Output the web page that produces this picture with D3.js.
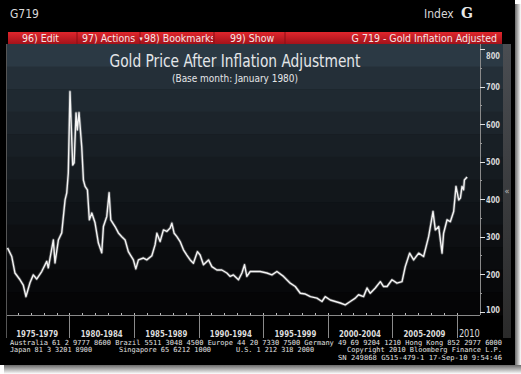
<!DOCTYPE html>
<html>
<head>
<meta charset="utf-8">
<script src="https://cdn.jsdelivr.net/npm/d3@7"></script>
<style>
  html, body { margin: 0; padding: 0; background: #fff; }
  svg { display: block; }
</style>
</head>
<body>
<svg id="chart" width="521" height="374"></svg>
<script>
// inflation adjusted gold price (decimal year, USD)
const years = [
  1975.20, 1975.53, 1975.78, 1976.17, 1976.42, 1976.63, 1976.94, 1977.20, 1977.46, 1977.85,
  1978.24, 1978.36, 1978.75, 1978.88, 1979.14, 1979.40, 1979.66, 1979.79, 1979.91, 1980.04,
  1980.25, 1980.36, 1980.51, 1980.61, 1980.74, 1980.95, 1981.08, 1981.21, 1981.39, 1981.54,
  1981.73, 1981.98, 1982.24, 1982.50, 1982.63, 1982.89, 1983.07, 1983.20, 1983.53, 1983.79,
  1984.05, 1984.31, 1984.56, 1984.95, 1985.14, 1985.34, 1985.73, 1985.99, 1986.38, 1986.63,
  1986.77, 1987.02, 1987.28, 1987.54, 1987.80, 1987.93, 1988.11, 1988.32, 1988.57, 1988.83,
  1989.09, 1989.35, 1989.60, 1989.91, 1990.12, 1990.38, 1990.77, 1991.03, 1991.42, 1991.80,
  1992.19, 1992.45, 1992.70, 1993.09, 1993.36, 1993.56, 1993.74, 1994.00, 1994.52, 1994.77,
  1995.29, 1995.68, 1996.07, 1996.58, 1997.10, 1997.49, 1997.88, 1998.27, 1998.66, 1999.17,
  1999.56, 1999.81, 2000.20, 2000.59, 2000.98, 2001.36, 2001.75, 2002.14, 2002.39, 2002.78,
  2003.05, 2003.30, 2003.69, 2004.08, 2004.33, 2004.60, 2004.98, 2005.37, 2005.76, 2006.01,
  2006.35, 2006.66, 2007.05, 2007.43, 2007.82, 2008.16, 2008.34, 2008.60, 2008.86, 2008.98,
  2009.25, 2009.50, 2009.76, 2009.94, 2010.15, 2010.28, 2010.41, 2010.53, 2010.59, 2010.80
];
const prices = [
  270, 247, 203, 185, 171, 140, 177, 198, 187, 207,
  234, 217, 291, 230, 291, 310, 398, 417, 470, 687,
  491, 497, 630, 585, 631, 540, 451, 434, 425, 345,
  363, 337, 283, 257, 327, 354, 417, 345, 327, 310,
  300, 291, 260, 238, 214, 238, 243, 238, 249, 278,
  309, 287, 318, 314, 323, 336, 309, 300, 287, 265,
  251, 238, 229, 260, 251, 225, 238, 220, 211, 211,
  203, 194, 198, 185, 203, 225, 194, 207, 207, 207,
  203, 198, 207, 194, 176, 167, 149, 147, 140, 136,
  127, 140, 131, 127, 123, 118, 127, 136, 145, 140,
  163, 149, 163, 180, 167, 167, 185, 176, 180, 220,
  256, 238, 256, 247, 300, 367, 318, 327, 256, 309,
  345, 340, 367, 434, 398, 403, 434, 425, 451, 459
];

const yTicks = [100, 200, 300, 400, 500, 600, 700, 800];
const periodStarts = [1975, 1980, 1985, 1990, 1995, 2000, 2005, 2010];
const periodLabels = ['1975-1979', '1980-1984', '1985-1989', '1990-1994',
                      '1995-1999', '2000-2004', '2005-2009', '2010'];
const menuItems = ['96) Edit', '97) Actions', '98) Bookmarks', '99) Show'];
const footerLine1 = 'Australia 61 2 9777 8600 Brazil 5511 3048 4500 Europe 44 20 7330 7500 Germany 49 69 9204 1210 Hong Kong 852 2977 6000';
const footerLine2 = ['Japan 81 3 3201 8900', 'Singapore 65 6212 1000', 'U.S. 1 212 318 2000',
                     'Copyright 2010 Bloomberg Finance L.P.'];
const footerLine3 = 'SN 249868 G515-479-1 17-Sep-10  9:54:46';

const FONT = '"DejaVu Sans Condensed", "DejaVu Sans", sans-serif';
const MONO = '"DejaVu Sans Mono", "Liberation Mono", monospace';

const svg = d3.select('#chart');
const plot = {left: 7, right: 480, top: 44, bottom: 315, panelRight: 503};

const xScale = d3.scaleLinear().domain([1975.2, 2011.8]).range([7.5, 480]);
const yScale = d3.scaleLinear().domain([91, 806]).range([plot.bottom, 47]);

const defs = svg.append('defs');

function drawFrame() {
    // screenshot shadow around the terminal window
    const sh = defs.append('linearGradient').attr('id', 'shadowR');
    sh.append('stop').attr('offset', 0).attr('stop-color', '#6a6a6a');
    sh.append('stop').attr('offset', 1).attr('stop-color', '#ffffff');
    const shB = defs.append('linearGradient').attr('id', 'shadowB')
        .attr('x1', 0).attr('y1', 0).attr('x2', 0).attr('y2', 1);
    shB.append('stop').attr('offset', 0).attr('stop-color', '#6a6a6a');
    shB.append('stop').attr('offset', 1).attr('stop-color', '#ffffff');

    svg.append('rect').attr('x', 515).attr('y', 4).attr('width', 6).attr('height', 366)
        .attr('fill', 'url(#shadowR)');
    svg.append('rect').attr('x', 4).attr('y', 365).attr('width', 517).attr('height', 9)
        .attr('fill', 'url(#shadowB)');
    svg.append('rect').attr('x', 0).attr('y', 0).attr('width', 515).attr('height', 365)
        .attr('fill', '#000');
}

function drawHeader() {
    svg.append('text').attr('x', 10).attr('y', 18)
        .attr('font-family', FONT).attr('font-size', 12).attr('fill', '#d8d8d8')
        .text('G719');
    svg.append('text').attr('x', 424).attr('y', 18)
        .attr('font-family', FONT).attr('font-size', 12).attr('fill', '#d8d8d8')
        .text('Index');
    svg.append('text').attr('x', 461).attr('y', 18)
        .attr('font-family', '"DejaVu Serif", serif').attr('font-size', 14)
        .attr('font-weight', 'bold').attr('fill', '#e8e8e8')
        .text('G');

    const red = defs.append('linearGradient').attr('id', 'redBar')
        .attr('x1', 0).attr('y1', 0).attr('x2', 0).attr('y2', 1);
    red.append('stop').attr('offset', 0).attr('stop-color', '#e0262c');
    red.append('stop').attr('offset', 1).attr('stop-color', '#a3121a');

    svg.append('rect').attr('x', 8).attr('y', 32).attr('width', 494).attr('height', 12)
        .attr('fill', 'url(#redBar)');

    defs.append('clipPath').attr('id', 'bookClip')
        .append('rect').attr('x', 140).attr('y', 30).attr('width', 73).attr('height', 16);

    const menuX = [22, 82, 144, 230];
    [77, 140, 214, 285].forEach(sx => {
        svg.append('line').attr('x1', sx).attr('x2', sx).attr('y1', 32).attr('y2', 44)
            .attr('stroke', '#8a0e14').attr('stroke-width', 1);
    });
    menuItems.forEach((m, i) => {
        svg.append('text').attr('x', menuX[i]).attr('y', 42)
            .attr('font-family', FONT).attr('font-size', 10.5).attr('fill', '#f6e4e4')
            .attr('clip-path', i === 2 ? 'url(#bookClip)' : null)
            .text(m);
    });
    svg.append('text').attr('x', 141).attr('y', 41).attr('text-anchor', 'middle')
        .attr('font-family', FONT).attr('font-size', 7).attr('fill', '#f6e4e4').text('\u25BE');
    svg.append('text').attr('x', 497).attr('y', 42).attr('text-anchor', 'end')
        .attr('font-family', FONT).attr('font-size', 10.5).attr('fill', '#f6e4e4')
        .text('G 719 - Gold Inflation Adjusted');
}

function drawPanel() {
    // banded vertical gradient of the Bloomberg chart panel
    const bands = 12;
    const bh = (plot.bottom - plot.top) / bands;
    const col = d3.interpolateRgb('#2b3944', '#050506');
    for (let i = 0; i < bands; i++) {
        svg.append('rect')
            .attr('x', plot.left).attr('y', plot.top + i * bh)
            .attr('width', plot.panelRight - plot.left).attr('height', bh + 0.5)
            .attr('fill', col(Math.pow(i / (bands - 1), 0.7)));
    }

    const side = defs.append('linearGradient').attr('id', 'sideBar')
        .attr('x1', 0).attr('y1', 0).attr('x2', 0).attr('y2', 1);
    side.append('stop').attr('offset', 0).attr('stop-color', '#4a4d52');
    side.append('stop').attr('offset', 1).attr('stop-color', '#2a2a2a');
    svg.append('rect').attr('x', 503).attr('y', 44).attr('width', 8).attr('height', 294)
        .attr('fill', 'url(#side)').attr('fill', 'url(#sideBar)');
    svg.append('text').attr('x', 507).attr('y', 194).attr('text-anchor', 'middle')
        .attr('font-family', FONT).attr('font-size', 9).attr('fill', '#bbb').text('\u00AB');

    svg.append('line').attr('x1', plot.left - 0.5).attr('x2', plot.left - 0.5)
        .attr('y1', plot.top).attr('y2', 338).attr('stroke', '#555');
}

function drawTitle() {
    svg.append('text').attr('x', 235).attr('y', 67).attr('text-anchor', 'middle')
        .attr('font-family', FONT).attr('font-size', 17).attr('fill', '#e4e6e8')
        .attr('textLength', 251).attr('lengthAdjust', 'spacingAndGlyphs')
        .text('Gold Price After Inflation Adjustment');
    svg.append('text').attr('x', 235).attr('y', 82).attr('text-anchor', 'middle')
        .attr('font-family', FONT).attr('font-size', 11).attr('fill', '#e4e6e8')
        .attr('textLength', 126).attr('lengthAdjust', 'spacingAndGlyphs')
        .text('(Base month: January 1980)');
}

function drawAxes() {
    // right value axis
    svg.append('line').attr('x1', plot.right + 0.5).attr('x2', plot.right + 0.5)
        .attr('y1', plot.top).attr('y2', plot.bottom).attr('stroke', '#8a8a8a');

    const minor = d3.range(150, 800, 100);
    svg.append('g').selectAll('line').data(minor).enter().append('line')
        .attr('x1', plot.right).attr('x2', plot.right + 2)
        .attr('y1', d => Math.round(yScale(d)) + 0.5).attr('y2', d => Math.round(yScale(d)) + 0.5)
        .attr('stroke', '#999');

    const yt = svg.append('g').selectAll('g').data(yTicks).enter().append('g');
    yt.append('line')
        .attr('x1', plot.right).attr('x2', plot.right + 5)
        .attr('y1', d => Math.round(yScale(d)) + 0.5).attr('y2', d => Math.round(yScale(d)) + 0.5)
        .attr('stroke', '#e0e0e0');
    yt.append('text')
        .attr('x', 486)
        .attr('y', d => Math.min(Math.max(yScale(d), 55), 309) + 3.5)
        .attr('font-family', FONT).attr('font-size', 9).attr('font-weight', 'bold')
        .attr('fill', '#d8d8d8')
        .attr('textLength', 14).attr('lengthAdjust', 'spacingAndGlyphs')
        .text(d => d);

    // bottom time axis
    svg.append('line').attr('x1', plot.left).attr('x2', plot.right)
        .attr('y1', plot.bottom + 0.5).attr('y2', plot.bottom + 0.5).attr('stroke', '#8a8a8a');

    svg.append('g').selectAll('line').data(d3.range(1976, 2011)).enter().append('line')
        .attr('x1', d => Math.round(xScale(d)) + 0.5).attr('x2', d => Math.round(xScale(d)) + 0.5)
        .attr('y1', plot.bottom - 2).attr('y2', plot.bottom)
        .attr('stroke', '#bbb');

    svg.append('g').selectAll('line').data(periodStarts.slice(1)).enter().append('line')
        .attr('x1', d => Math.round(xScale(d)) + 0.5).attr('x2', d => Math.round(xScale(d)) + 0.5)
        .attr('y1', plot.bottom).attr('y2', 338)
        .attr('stroke', '#8a8a8a');

    svg.append('g').selectAll('text').data(periodLabels).enter().append('text')
        .attr('x', (d, i) => {
            const a = xScale(periodStarts[i]);
            const b = i < periodStarts.length - 1 ? xScale(periodStarts[i + 1]) : plot.right + 2;
            return (a + b) / 2;
        })
        .attr('y', (d, i) => i === periodLabels.length - 1 ? 337 : 336.5)
        .attr('text-anchor', 'middle')
        .attr('font-family', FONT)
        .attr('font-size', (d, i) => i === periodLabels.length - 1 ? 11 : 9.5)
        .attr('font-weight', (d, i) => i === periodLabels.length - 1 ? 'normal' : 'bold')
        .attr('fill', '#dcdcdc')
        .attr('textLength', (d, i) => i === periodLabels.length - 1 ? 21 : 42)
        .attr('lengthAdjust', 'spacingAndGlyphs')
        .text(d => d);
}

function drawSeries() {
    const pts = years.map((yr, i) => [yr, prices[i]]);
    const line = d3.line()
        .x(d => xScale(d[0]))
        .y(d => yScale(d[1]));

    svg.append('path').datum(pts)
        .attr('d', line)
        .attr('fill', 'none')
        .attr('stroke', '#ffffff').attr('stroke-opacity', 0.25)
        .attr('stroke-width', 3)
        .attr('stroke-linejoin', 'round');
    svg.append('path').datum(pts)
        .attr('d', line)
        .attr('fill', 'none')
        .attr('stroke', '#f4f4f4')
        .attr('stroke-width', 1.4)
        .attr('stroke-linejoin', 'round');
}

function drawFooter() {
    const f = svg.append('g').attr('font-family', MONO).attr('font-size', 7).attr('fill', '#e0e0e0');
    f.append('text').attr('x', 10).attr('y', 345)
        .attr('textLength', 492).attr('lengthAdjust', 'spacingAndGlyphs')
        .text(footerLine1);
    const l2x = [10, 119, 236, 347];
    const l2w = [82, 92, 78, 155];
    footerLine2.forEach((t, i) => {
        f.append('text').attr('x', l2x[i]).attr('y', 352)
            .attr('textLength', l2w[i]).attr('lengthAdjust', 'spacingAndGlyphs')
            .text(t);
    });
    f.append('text').attr('x', 338).attr('y', 360)
        .attr('textLength', 164).attr('lengthAdjust', 'spacingAndGlyphs')
        .text(footerLine3);
}

drawFrame();
drawHeader();
drawPanel();
drawTitle();
drawAxes();
drawSeries();
drawFooter();
</script>
</body>
</html>
